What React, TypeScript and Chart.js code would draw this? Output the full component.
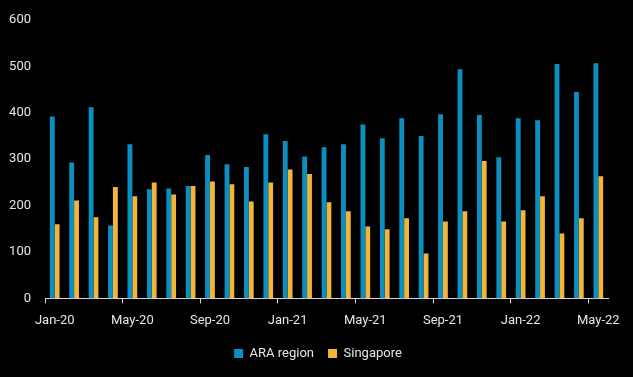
import React, { useEffect, useRef } from "react";
import { Chart, registerables } from "chart.js";

Chart.register(...registerables);

const months = [
  "Jan-20", "Feb-20", "Mar-20", "Apr-20", "May-20", "Jun-20", "Jul-20", "Aug-20", "Sep-20", "Oct-20", "Nov-20", "Dec-20",
  "Jan-21", "Feb-21", "Mar-21", "Apr-21", "May-21", "Jun-21", "Jul-21", "Aug-21", "Sep-21", "Oct-21", "Nov-21", "Dec-21",
  "Jan-22", "Feb-22", "Mar-22", "Apr-22", "May-22",
];

const araRegion = [
  392, 293, 412, 157, 332, 235, 237, 242, 309, 289, 283, 354,
  339, 306, 326, 332, 375, 345, 388, 350, 397, 494, 395, 304,
  388, 384, 505, 445, 507,
];

const singapore = [
  160, 211, 175, 240, 220, 250, 224, 242, 252, 246, 209, 250,
  278, 268, 207, 188, 155, 149, 173, 97, 166, 188, 296, 166,
  190, 220, 140, 173, 263,
];

const yTicks = [0, 100, 200, 300, 400, 500, 600];

const BLUE = "#0b8ec0";
const ORANGE = "#f4b537";
const TEXT = "#e6e6e6";
const AXIS = "#d9d9d9";

const legendShift = {
  id: "legendShift",
  afterLayout(chart: any) {
    const lg = chart.legend;
    if (!lg) return;
    const dx = 14;
    const dy = -6;
    lg.left += dx;
    lg.right += dx;
    lg.top += dy;
    lg.bottom += dy;
  },
};

export default function App() {
  const ref = useRef<HTMLCanvasElement | null>(null);

  useEffect(() => {
    document.body.style.margin = "0";
    document.body.style.background = "#000";
    const canvas = ref.current;
    if (!canvas) return;
    const chart = new Chart(canvas, {
      type: "bar",
      data: {
        labels: months,
        datasets: [
          {
            label: "ARA region",
            data: araRegion,
            backgroundColor: BLUE,
            categoryPercentage: 0.5,
            barPercentage: 1.0,
          },
          {
            label: "Singapore",
            data: singapore,
            backgroundColor: ORANGE,
            categoryPercentage: 0.5,
            barPercentage: 1.0,
          },
        ],
      },
      plugins: [legendShift],
      options: {
        animation: false,
        responsive: false,
        maintainAspectRatio: false,
        layout: { padding: { left: 0, right: 25, top: 20, bottom: 1 } },
        font: { family: "Roboto", size: 13 },
        plugins: {
          legend: {
            position: "bottom",
            labels: {
              color: TEXT,
              boxWidth: 9,
              boxHeight: 9,
              padding: 14,
              font: { family: "Roboto", size: 13 },
            },
          },
          tooltip: { enabled: false },
        },
        scales: {
          x: {
            grid: {
              display: true,
              drawOnChartArea: false,
              drawTicks: true,
              tickLength: 5,
              offset: true,
              color: (ctx: any) => (ctx.index % 4 === 0 ? AXIS : "rgba(0,0,0,0)"),
            },
            border: { display: true, color: AXIS, width: 1 },
            ticks: {
              autoSkip: false,
              maxRotation: 0,
              minRotation: 0,
              color: TEXT,
              padding: 10,
              font: { family: "Roboto", size: 13 },
              callback: (_v: any, i: number) => (i % 4 === 0 ? months[i] : ""),
            },
          },
          y: {
            min: 0,
            max: 600,
            afterBuildTicks: (scale: any) => {
              scale.ticks = yTicks.map((v) => ({ value: v }));
            },
            afterFit: (scale: any) => {
              scale.width = 45;
            },
            grid: { display: false },
            border: { display: false },
            ticks: {
              color: TEXT,
              padding: 6,
              font: { family: "Roboto", size: 13 },
            },
          },
        },
      },
    });
    return () => chart.destroy();
  }, []);

  return (
    <div style={{ width: 633, height: 377, background: "#000" }}>
      <canvas ref={ref} width={633} height={377} style={{ display: "block" }} />
    </div>
  );
}
